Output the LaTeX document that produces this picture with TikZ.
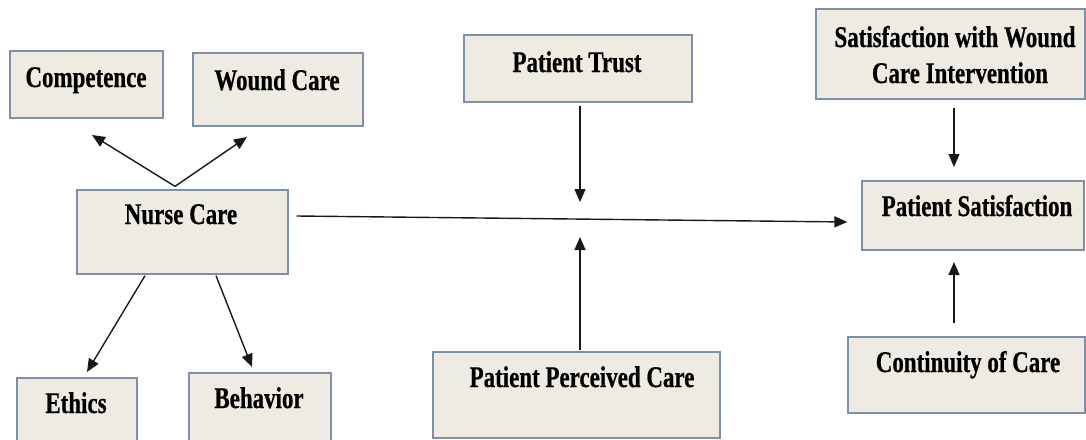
\documentclass[tikz,border=0pt]{standalone}
\usepackage{fontspec}
\setmainfont{Liberation Serif}[FakeStretch=0.765,FakeBold=0.6]
\usetikzlibrary{arrows.meta}
\definecolor{boxfill}{RGB}{238,236,226}
\definecolor{boxline}{RGB}{127,143,170}
\definecolor{arrcol}{RGB}{25,25,25}
\begin{document}
\begin{tikzpicture}[x=1pt,y=-1pt,
  box/.style={draw=boxline, line width=1.3pt, fill=boxfill, inner sep=0pt},
  lbl/.style={anchor=base, inner sep=0pt, font=\fontsize{30}{36}\selectfont\bfseries, text=black},
  arr/.style={draw=arrcol, line width=1.4pt, -{Triangle[length=13pt,width=11pt]}}]
\useasboundingbox (0,0) rectangle (1086,439);
\clip (0,0) rectangle (1086,439);
% boxes
\node[box, minimum width=153, minimum height=67] (comp) at (86.5,84.5) {};
\node[box, minimum width=170, minimum height=73] (wound) at (278,89.5) {};
\node[box, minimum width=211, minimum height=84] (nurse) at (182.5,232) {};
\node[box, minimum width=120, minimum height=67] (ethics) at (77,411.5) {};
\node[box, minimum width=142, minimum height=72] (behav) at (260,409) {};
\node[box, minimum width=228, minimum height=67] (trust) at (578,68.5) {};
\node[box, minimum width=269, minimum height=90] (swci) at (950.5,54) {};
\node[box, minimum width=222, minimum height=69] (ps) at (973,215.5) {};
\node[box, minimum width=287, minimum height=86] (ppc) at (576.5,395) {};
\node[box, minimum width=237, minimum height=76] (coc) at (966.5,375) {};
% labels
\node[lbl] (compT) at (86,87) {Competence};
\node[lbl] (woundT) at (277,90) {Wound Care};
\node[lbl] (nurseT) at (181,224) {Nurse Care};
\node[lbl] (ethicsT) at (76,413) {Ethics};
\node[lbl] (behavT) at (259,408) {Behavior};
\node[lbl] (trustT) at (577,72) {Patient Trust};
\node[lbl] (swciA) at (955,47) {Satisfaction with Wound};
\node[lbl] (swciB) at (960,83) {Care Intervention};
\node[lbl] (psT) at (977,216) {Patient Satisfaction};
\node[lbl] (ppcT) at (582,387) {Patient Perceived Care};
\node[lbl] (cocT) at (968,372) {Continuity of Care};
% arrow ends
\coordinate (tipComp) at (92,135);
\coordinate (tipWound) at (247,137);
\coordinate (tipEthics) at (87,372);
\coordinate (tipBehav) at (252,367);
\coordinate (tipTrust) at (580,202);
\coordinate (tipPPC) at (580,237);
\coordinate (tipSWCI) at (954,167);
\coordinate (tipCOC) at (954,262);
% connectors
\draw[arr] ([shift={(-7.5,-3)}]nurse.north) -- (tipComp);
\draw[arr] ([shift={(-7.5,-3)}]nurse.north) -- (tipWound);
\draw[arr] ([shift={(-37.5,1)}]nurse.south) -- (tipEthics);
\draw[arr] ([shift={(33.5,1)}]nurse.south) -- (tipBehav);
\draw[arr] ([shift={(2,3)}]trust.south) -- (tipTrust);
\draw[arr] ([shift={(3.5,-1)}]ppc.north) -- (tipPPC);
\draw[arr] ([shift={(8,-16)}]nurse.east) -- ([shift={(-14,6.5)}]ps.west);
\draw[arr] ([shift={(3.5,8)}]swci.south) -- (tipSWCI);
\draw[arr] ([shift={(-12.5,-13)}]coc.north) -- (tipCOC);
\end{tikzpicture}
\end{document}
